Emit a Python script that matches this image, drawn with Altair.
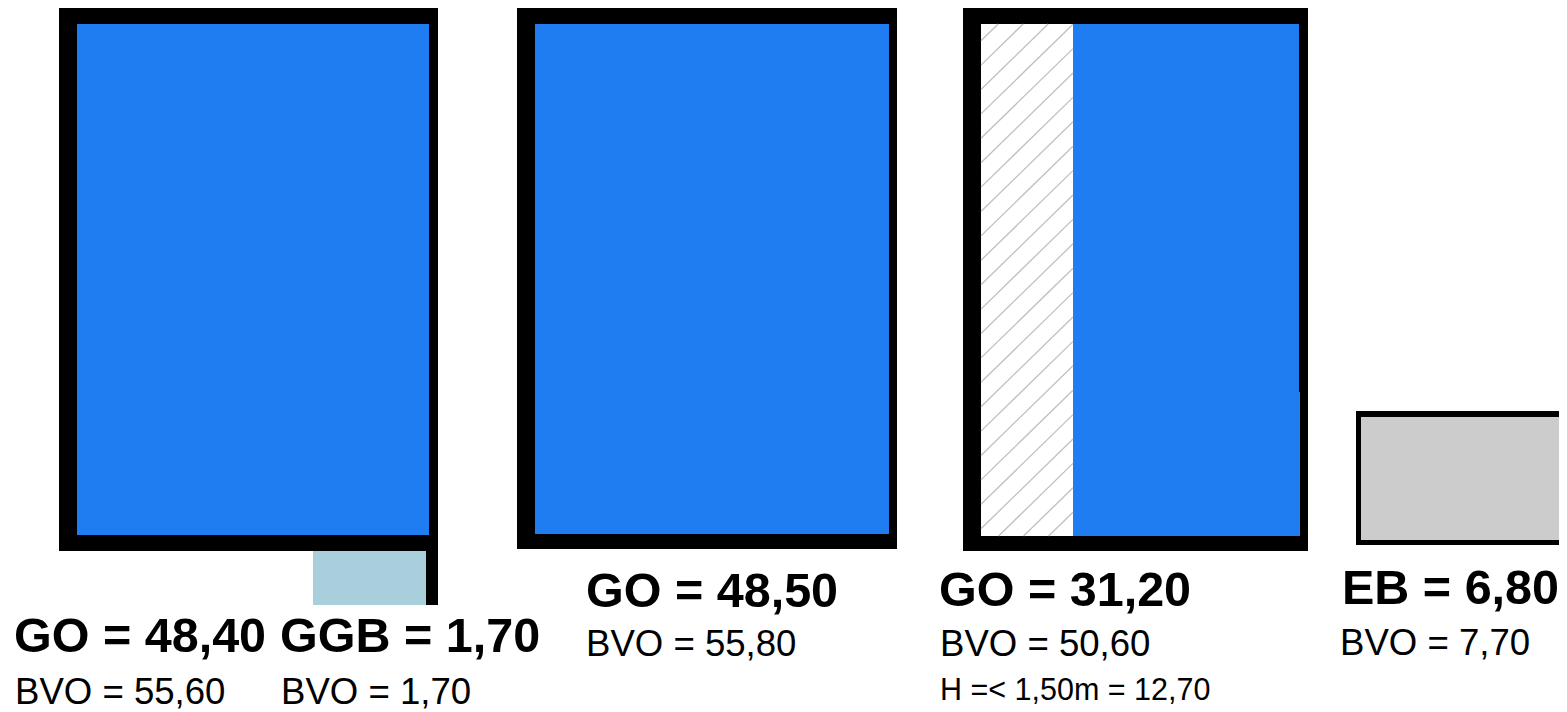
import altair as alt
import pandas as pd

# Plan rectangles, in plan units
rect_left = [59, 426, 77, 313, 517, 535, 963, 981, 1073, 1200, 1356, 1361]
rect_right = [438, 438, 429, 426, 897, 889, 1308, 1073, 1299, 1300, 1567, 1567]
rect_top = [8, 500, 24, 551, 8, 24, 8, 24, 24, 392, 411, 417]
rect_bottom = [551, 605, 535, 605, 549, 534, 551, 536, 536, 536, 545, 540]
rect_fill = ["#000000", "#000000", "#1f7df1", "#a9cfdc", "#000000", "#1f7df1",
             "#000000", "#ffffff", "#1f7df1", "#1f7df1", "#000000", "#cccccc"]

# Hatched strip: where each hatch line enters and leaves
hatch_area = (981, 1073, 24, 536)
hatch_slope = 0.975
hatch_starts = [40.7, 65.1, 89.5, 113.9, 138.3, 162.7, 187.1, 211.5, 235.9, 260.3, 284.7, 309.1,
                333.5, 357.9, 382.3, 406.7, 431.1, 455.5, 479.9, 504.3, 528.7, 553.1, 577.5, 601.9]

big_labels = ["GO = 48,40", "GGB = 1,70", "GO = 48,50", "GO = 31,20", "EB = 6,80"]
big_x = [14, 280, 586, 939, 1342]
big_y = [652, 652, 607, 606, 604]

small_labels = ["BVO = 55,60", "BVO = 1,70", "BVO = 55,80", "BVO = 50,60", "BVO = 7,70"]
small_x = [15, 281, 586, 940, 1340]
small_y = [704, 704, 656, 656, 655]

note_labels = ["H =< 1,50m = 12,70"]
note_x = [940]
note_y = [700]

x_scale = alt.Scale(domain=[8, 1559], range=[0, 1551])
y_scale = alt.Scale(domain=[8, 712], range=[0, 704])
X = alt.X("x:Q", scale=x_scale, axis=None)
Y = alt.Y("y:Q", scale=y_scale, axis=None)

rects = pd.DataFrame({"x": rect_left, "x2": rect_right, "y": rect_top,
                      "y2": rect_bottom, "fill": rect_fill, "order": range(len(rect_left))})

hl, hr, ht, hb = hatch_area
segments = []
for c in hatch_starts:
    x1, y1 = hl, c
    if y1 > hb:
        x1, y1 = hl + (c - hb) / hatch_slope, hb
    x2, y2 = hr, c - (hr - hl) * hatch_slope
    if y2 < ht:
        x2, y2 = hl + (c - ht) / hatch_slope, ht
    if x1 < hr:
        segments.append({"x": x1, "y": y1, "x2": x2, "y2": y2})
hatch = pd.DataFrame(segments)

rect_layer = alt.Chart(rects).mark_rect(strokeWidth=0).encode(
    x=X, x2="x2:Q", y=Y, y2="y2:Q",
    color=alt.Color("fill:N", scale=None),
    order="order:Q",
)
hatch_layer = alt.Chart(hatch).mark_rule(color="#c0c0c0", strokeWidth=1.3).encode(
    x=X, x2="x2:Q", y=Y, y2="y2:Q"
)


def text_layer(labels, xs, ys, size, weight):
    df = pd.DataFrame({"label": labels, "x": xs, "y": ys})
    return alt.Chart(df).mark_text(
        align="left", baseline="alphabetic", font="Liberation Sans",
        fontSize=size, fontWeight=weight, color="#000000",
    ).encode(x=X, y=Y, text="label:N")


chart = alt.layer(
    rect_layer,
    hatch_layer,
    text_layer(big_labels, big_x, big_y, 48.5, "bold"),
    text_layer(small_labels, small_x, small_y, 36.6, "normal"),
    text_layer(note_labels, note_x, note_y, 30.5, "normal"),
).properties(
    width=1551, height=704, padding=0,
    autosize=alt.AutoSizeParams(type="none"),
    background="#ffffff",
).configure_view(stroke=None)

chart.save("out.html", embed_options={"renderer": "svg", "actions": False})
